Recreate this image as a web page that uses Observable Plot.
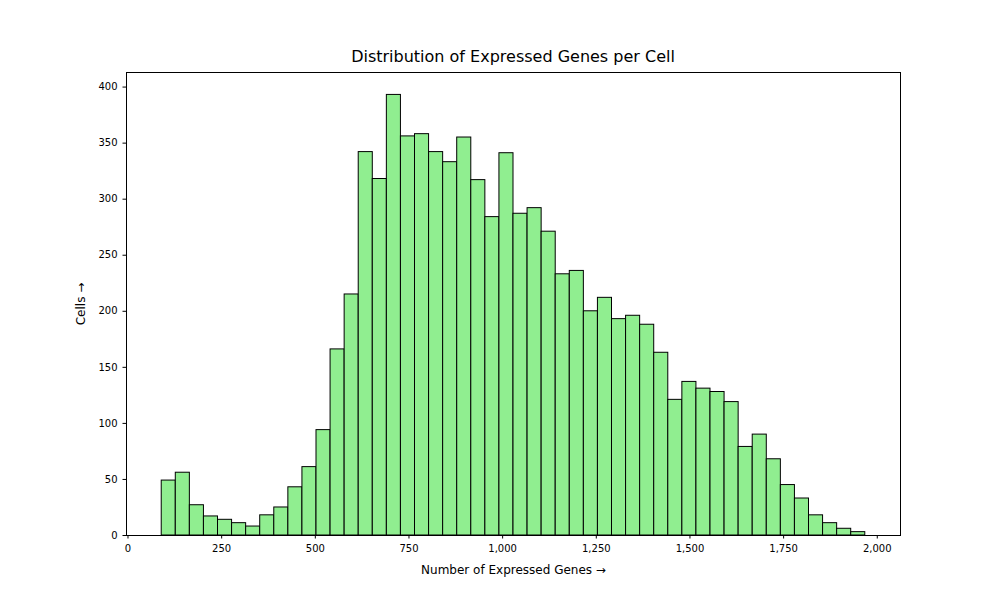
<!DOCTYPE html>
<html>
<head>
<meta charset="utf-8">
<script src="https://cdn.jsdelivr.net/npm/d3@7"></script>
<script src="https://cdn.jsdelivr.net/npm/@observablehq/plot@0.6"></script>
<style>
  body { margin: 0; background: #fff; font-family: "DejaVu Sans", sans-serif; }
  #wrap { position: relative; width: 1000px; height: 600px; }
  #title { position: absolute; top: 47px; left: 126px; width: 774px; text-align: center; font-size: 16px; }
</style>
</head>
<body>
<div id="wrap">
  <div id="title">Distribution of Expressed Genes per Cell</div>
  <div id="chart"></div>
</div>
<script>
// histogram bins
const binStart = 90
const binWidth = 37.56
const counts = [49, 56, 27, 17, 14, 11, 8, 18, 25, 43, 61, 94, 166, 215, 342, 318, 393, 356, 358, 342,
  333, 355, 317, 284, 341, 287, 292, 271, 233, 236, 200, 212, 193, 196, 188, 163, 121, 137, 131, 128,
  119, 79, 90, 68, 45, 33, 18, 11, 6, 3]
const xTicks = [0, 250, 500, 750, 1000, 1250, 1500, 1750, 2000]
const yTicks = [0, 50, 100, 150, 200, 250, 300, 350, 400]

const bins = counts.map((c, i) => ({x1: binStart + i * binWidth, x2: binStart + (i + 1) * binWidth, y: c}))

let chart = Plot.plot({
  width: 1000, height: 600,
  marginLeft: 126, marginRight: 100, marginTop: 72, marginBottom: 65,
  style: {fontFamily: "DejaVu Sans", fontSize: "10px", color: "black"},
  x: {domain: [-4, 2062], ticks: xTicks, tickSize: 3.5, label: "Number of Expressed Genes", labelAnchor: "center", labelOffset: 38},
  y: {domain: [0, 413], ticks: yTicks, tickSize: 3.5, label: "Cells", labelAnchor: "center", labelOffset: 50},
  marks: [
    Plot.rectY(bins, {x1: "x1", x2: "x2", y: "y", fill: "#90ee90", stroke: "black", strokeWidth: 1, inset: 0}),
    Plot.frame({stroke: "black"})
  ]
})
d3.select('#chart').append(() => chart)
d3.select(chart).selectAll('[aria-label="x-axis label"] text, [aria-label="y-axis label"] text').style('font-size', '12px')
</script>
</body>
</html>
